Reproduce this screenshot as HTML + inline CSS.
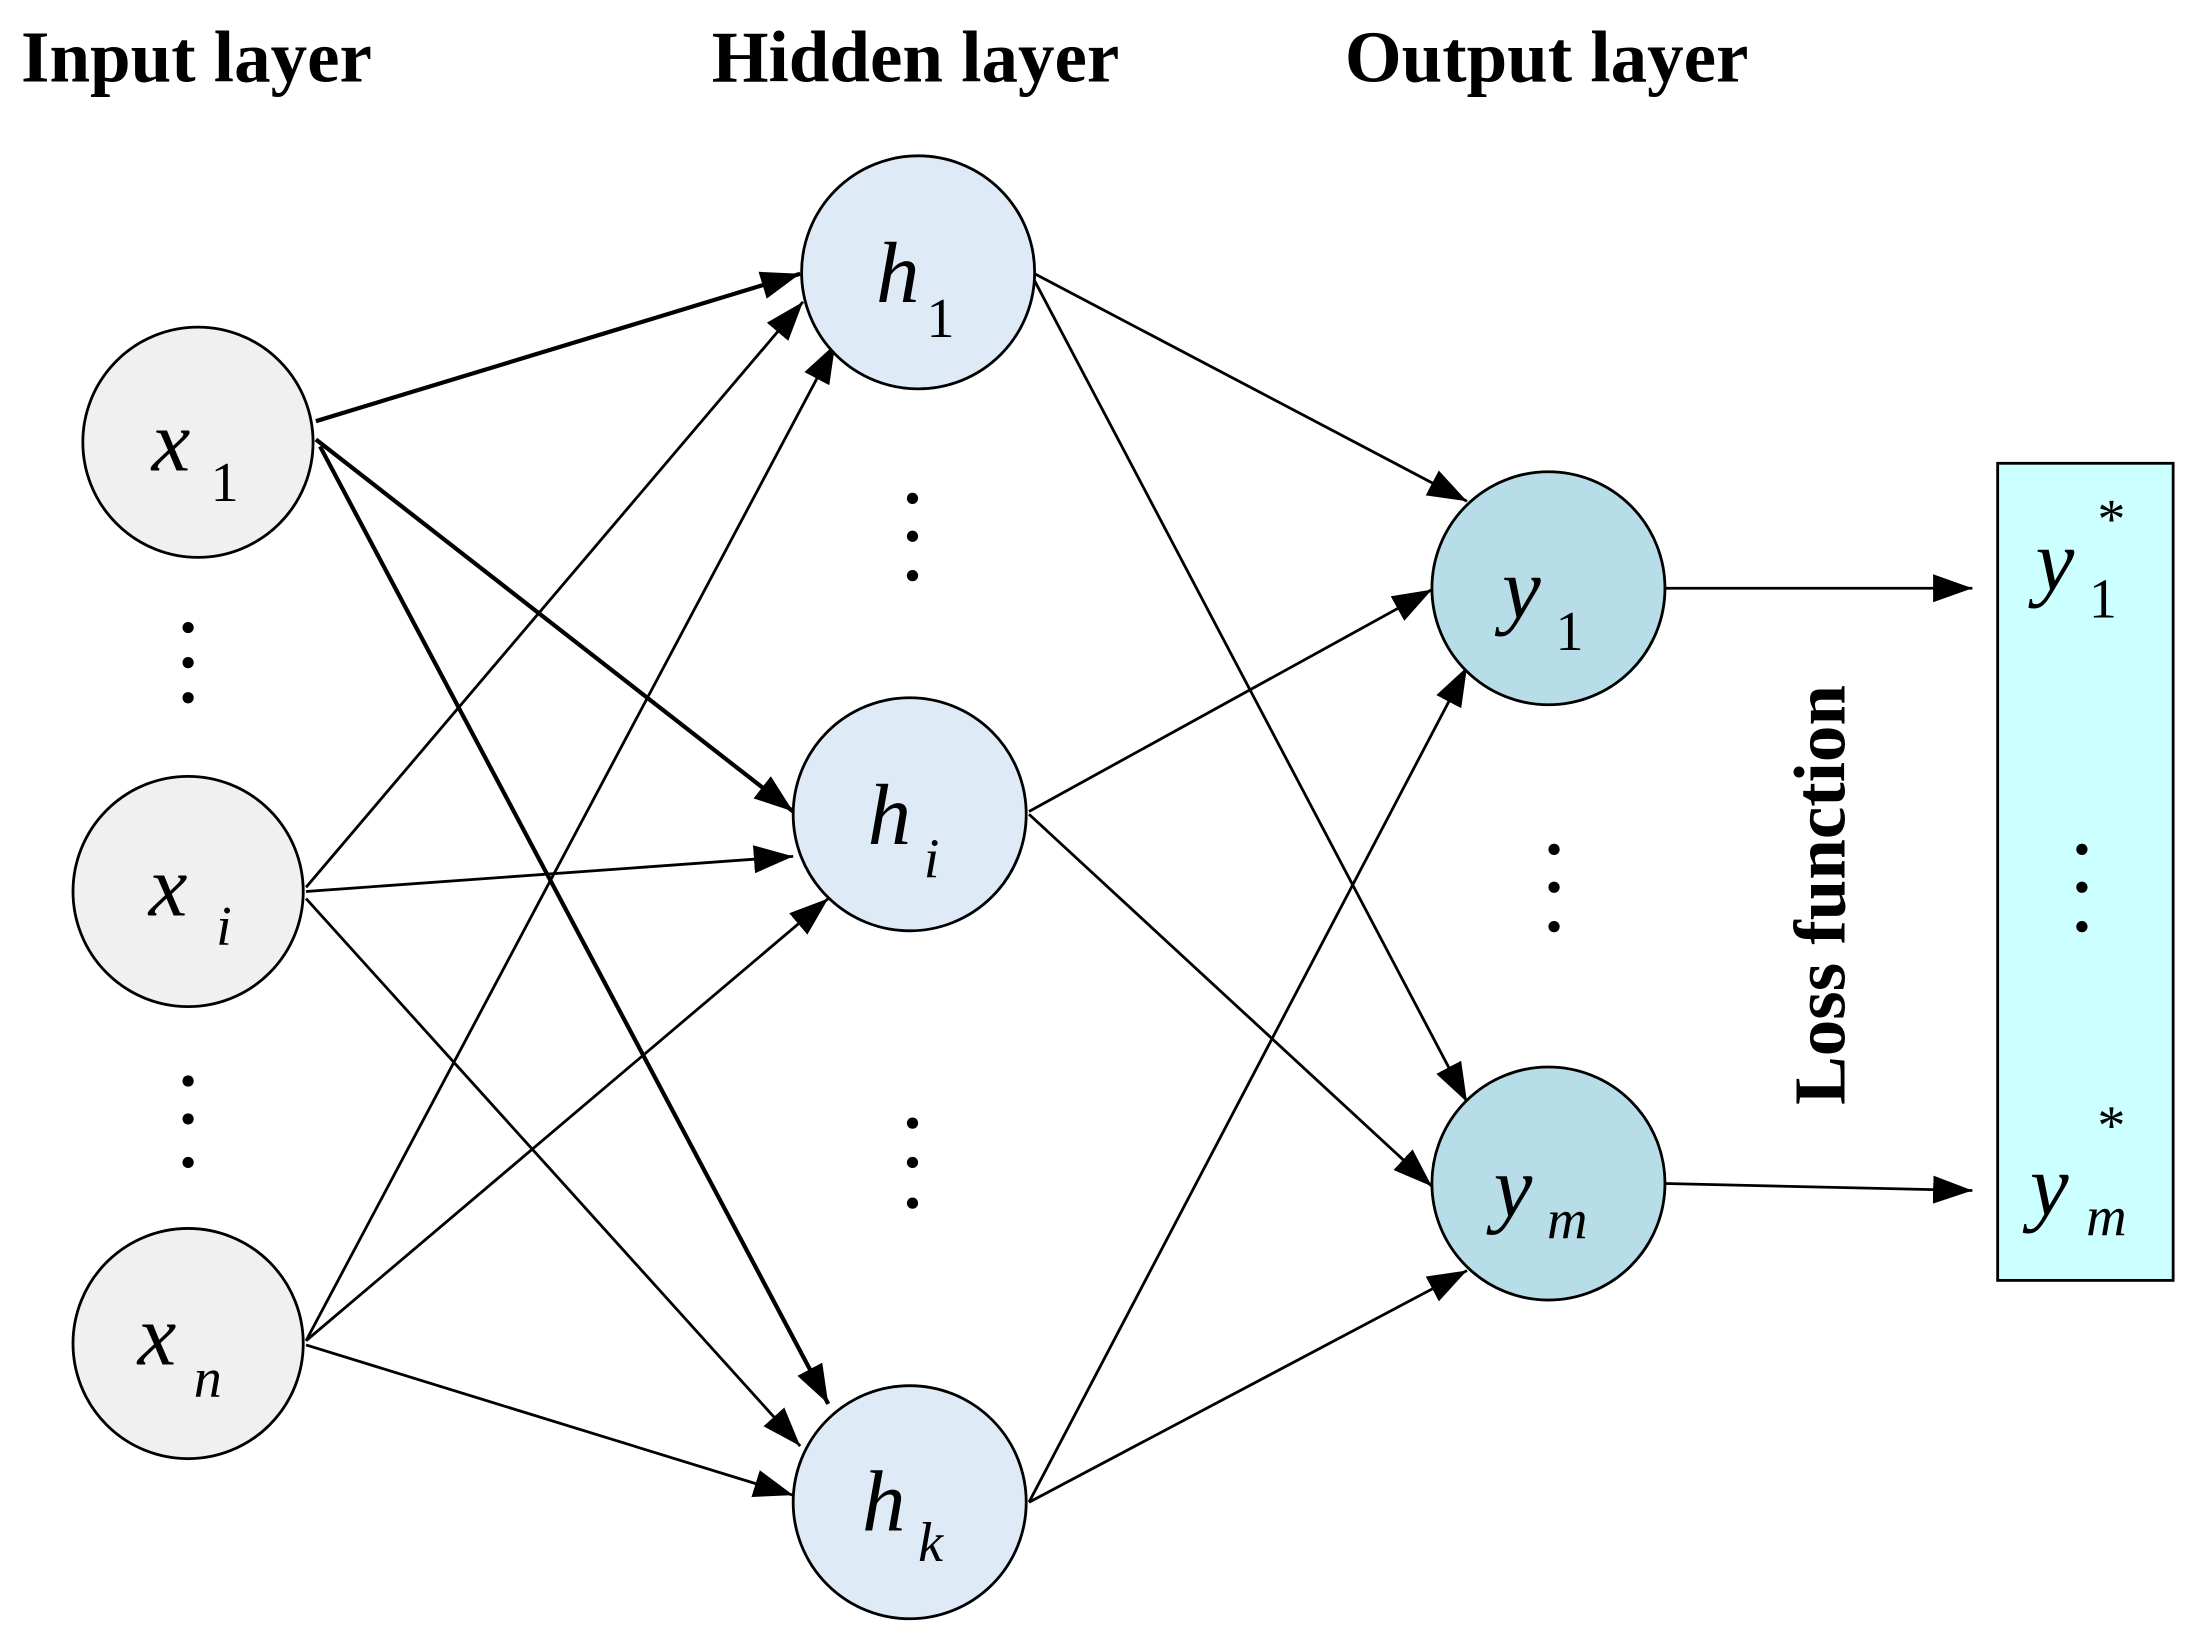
<!DOCTYPE html>
<html><head><meta charset="utf-8"><style>
html,body{margin:0;padding:0;background:#fff;}
svg{display:block;}
text{font-family:"Liberation Serif",serif;}
.b{font-weight:bold;font-size:52px;}
.v{font-style:italic;font-size:62px;}
.s{font-size:40px;}
.si{font-style:italic;font-size:40px;}
</style></head><body>
<svg width="2190" height="1644" viewBox="0 0 1560 1171" preserveAspectRatio="none" xmlns="http://www.w3.org/2000/svg">
<defs>
<marker id="A" viewBox="0 0 10 10" refX="10" refY="5" markerWidth="28" markerHeight="20" markerUnits="userSpaceOnUse" orient="auto" preserveAspectRatio="none"><path d="M0,0L10,5L0,10z" fill="#000"/></marker></defs>
<text class="b" x="15" y="58">Input layer</text>
<text class="b" x="507" y="58">Hidden layer</text>
<text class="b" x="958" y="58">Output layer</text>
<g stroke="#000" stroke-width="2" marker-end="url(#A)" fill="none">
<line x1="225" y1="300" x2="570" y2="195" stroke-width="3"/>
<line x1="225" y1="313" x2="565" y2="578" stroke-width="3"/>
<line x1="228" y1="318" x2="590" y2="1000" stroke-width="3"/>
<line x1="218" y1="632" x2="572" y2="215"/>
<line x1="218" y1="635" x2="565" y2="610"/>
<line x1="218" y1="640" x2="570" y2="1030"/>
<line x1="218" y1="955" x2="595" y2="245"/>
<line x1="218" y1="955" x2="590" y2="640"/>
<line x1="218" y1="958" x2="565" y2="1065"/>
<line x1="737" y1="195" x2="1045" y2="357"/>
<line x1="737" y1="200" x2="1045" y2="785"/>
<line x1="733" y1="578" x2="1020" y2="420"/>
<line x1="733" y1="580" x2="1020" y2="845"/>
<line x1="733" y1="1070" x2="1045" y2="475"/>
<line x1="733" y1="1070" x2="1045" y2="905"/>
<line x1="1186" y1="419" x2="1405" y2="419"/>
<line x1="1186" y1="843" x2="1405" y2="848"/>
</g>
<g stroke="#000" stroke-width="2">
<circle cx="141" cy="315" r="82" fill="#f0f0f0"/>
<circle cx="134" cy="635" r="82" fill="#f0f0f0"/>
<circle cx="134" cy="957" r="82" fill="#f0f0f0"/>
<circle cx="654" cy="194" r="83" fill="#deebf7"/>
<circle cx="648" cy="580" r="83" fill="#deebf7"/>
<circle cx="648" cy="1070" r="83" fill="#deebf7"/>
<circle cx="1103" cy="419" r="83" fill="#b7dde8"/>
<circle cx="1103" cy="843" r="83" fill="#b7dde8"/>
<rect x="1423" y="330" width="125" height="582" fill="#ccffff"/>
</g>
<g fill="#000">
<circle cx="134" cy="447" r="4"/><circle cx="134" cy="472" r="4"/><circle cx="134" cy="497" r="4"/>
<circle cx="134" cy="770" r="4"/><circle cx="134" cy="797" r="4"/><circle cx="134" cy="828" r="4"/>
<circle cx="650" cy="355" r="4"/><circle cx="650" cy="382" r="4"/><circle cx="650" cy="410" r="4"/>
<circle cx="650" cy="800" r="4"/><circle cx="650" cy="828" r="4"/><circle cx="650" cy="857" r="4"/>
<circle cx="1107" cy="605" r="4"/><circle cx="1107" cy="632" r="4"/><circle cx="1107" cy="660" r="4"/>
<circle cx="1483" cy="605" r="4"/><circle cx="1483" cy="632" r="4"/><circle cx="1483" cy="660" r="4"/>
</g>
<text class="v" x="108" y="335">x</text><text class="s" x="150" y="357">1</text>
<text class="v" x="106" y="652">x</text><text class="si" x="154" y="673">i</text>
<text class="v" x="98" y="972">x</text><text class="si" x="138" y="995">n</text>
<text class="v" x="624" y="215">h</text><text class="s" x="660" y="240">1</text>
<text class="v" x="618" y="601">h</text><text class="si" x="658" y="625">i</text>
<text class="v" x="614" y="1090">h</text><text class="si" x="654" y="1112">k</text>
<text class="v" x="1070" y="440">y</text><text class="s" x="1108" y="463">1</text>
<text class="v" x="1064" y="866">y</text><text class="si" x="1102" y="882">m</text>
<text class="v" x="1450" y="420">y</text><text class="s" x="1488" y="440">1</text><text class="s" x="1494" y="383">*</text>
<text class="v" x="1446" y="865">y</text><text class="si" x="1486" y="880">m</text><text class="s" x="1494" y="815">*</text>
<text class="b" transform="translate(1314,787) rotate(-90)">Loss function</text>
</svg>
</body></html>
